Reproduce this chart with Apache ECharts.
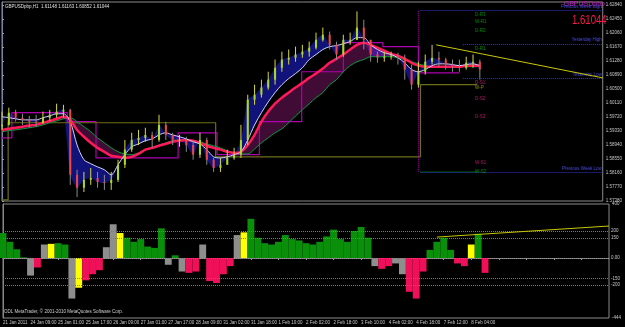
<!DOCTYPE html>
<html><head><meta charset="utf-8">
<script src="https://cdn.jsdelivr.net/npm/echarts@6/dist/echarts.min.js"></script>
<style>html,body{margin:0;padding:0;background:#000;}#chart{width:625px;height:327px;}</style>
</head><body><div id="chart"></div>
<script>
// ---------------- data ----------------
const tickLabels = ['21 Jan 2011','24 Jan 09:00','25 Jan 01:00','25 Jan 17:00','26 Jan 09:00','27 Jan 01:00','27 Jan 17:00','28 Jan 09:00','31 Jan 02:00','31 Jan 18:00','1 Feb 10:00','2 Feb 02:00','2 Feb 18:00','3 Feb 10:00','4 Feb 02:00','4 Feb 18:00','7 Feb 12:00','8 Feb 04:00'];
const closeP = [1.5950,1.5984,1.5970,1.5964,1.5959,1.5956,1.5970,1.5978,1.5987,1.5992,
1.5811,1.5775,1.5797,1.5802,1.5791,1.5788,1.5797,1.5839,1.5881,1.5908,
1.5914,1.5922,1.5908,1.5950,1.5922,1.5908,1.5908,1.5894,1.5867,1.5908,
1.5853,1.5830,1.5839,1.5858,1.5867,1.5908,1.6020,1.6034,1.6054,1.6076,
1.6109,1.6132,1.6137,1.6146,1.6154,1.6165,1.6187,1.6201,1.6173,1.6146,
1.6187,1.6187,1.6221,1.6187,1.6146,1.6137,1.6140,1.6143,1.6137,1.6104,
1.6062,1.6098,1.6126,1.6137,1.6132,1.6118,1.6112,1.6109,1.6123,1.6126,
1.61044];
const highP = [1.5987,1.5998,1.5992,1.5981,1.5975,1.5978,1.5987,1.5992,1.6009,1.6006,
1.5995,1.5825,1.5819,1.5830,1.5819,1.5811,1.5819,1.5853,1.5908,1.5928,
1.5936,1.5942,1.5931,1.5978,1.5959,1.5928,1.5922,1.5917,1.5908,1.5928,
1.5914,1.5858,1.5858,1.5881,1.5886,1.5950,1.6034,1.6062,1.6076,1.6098,
1.6132,1.6154,1.6160,1.6168,1.6173,1.6182,1.6207,1.6221,1.6210,1.6182,
1.6201,1.6207,1.6266,1.6243,1.6187,1.6154,1.6154,1.6154,1.6151,1.6146,
1.6118,1.6126,1.6146,1.6173,1.6154,1.6137,1.6132,1.6132,1.6140,1.6146,
1.6132];
const lowP = [1.5936,1.5948,1.5959,1.5950,1.5942,1.5945,1.5953,1.5961,1.5970,1.5970,
1.5783,1.5749,1.5763,1.5783,1.5775,1.5769,1.5769,1.5791,1.5830,1.5875,
1.5894,1.5903,1.5886,1.5903,1.5908,1.5894,1.5889,1.5875,1.5853,1.5858,
1.5839,1.5819,1.5819,1.5839,1.5853,1.5858,1.5894,1.6006,1.6026,1.6048,
1.6062,1.6098,1.6118,1.6126,1.6137,1.6140,1.6160,1.6182,1.6160,1.6132,
1.6140,1.6173,1.6187,1.6160,1.6126,1.6123,1.6126,1.6132,1.6118,1.6076,
1.6048,1.6054,1.6090,1.6118,1.6112,1.6104,1.6098,1.6098,1.6104,1.6109,
1.6076];
const fastMA = [1.5973,1.5970,1.5967,1.5964,1.5964,1.5964,1.5970,1.5975,1.5981,1.5981,
1.5959,1.5894,1.5853,1.5842,1.5833,1.5825,1.5811,1.5839,1.5867,1.5889,
1.5897,1.5906,1.5911,1.5922,1.5928,1.5922,1.5917,1.5911,1.5903,1.5897,
1.5881,1.5861,1.5858,1.5861,1.5867,1.5875,1.5908,1.5950,1.5984,1.6014,
1.6040,1.6062,1.6079,1.6093,1.6109,1.6132,1.6146,1.6160,1.6168,1.6171,
1.6176,1.6182,1.6193,1.6193,1.6173,1.6160,1.6151,1.6146,1.6137,1.6123,
1.6104,1.6098,1.6104,1.6115,1.6120,1.6120,1.6118,1.6115,1.6118,1.6120,
1.6115];
const midMA = [1.5936,1.5939,1.5942,1.5945,1.5948,1.5950,1.5956,1.5961,1.5967,1.5973,
1.5964,1.5936,1.5917,1.5900,1.5886,1.5875,1.5864,1.5861,1.5858,1.5861,
1.5869,1.5881,1.5886,1.5892,1.5897,1.5903,1.5906,1.5908,1.5906,1.5900,
1.5892,1.5886,1.5881,1.5875,1.5872,1.5875,1.5894,1.5922,1.5959,1.5987,
1.6009,1.6026,1.6040,1.6054,1.6067,1.6081,1.6093,1.6107,1.6123,1.6134,
1.6146,1.6160,1.6173,1.6179,1.6173,1.6165,1.6157,1.6148,1.6143,1.6134,
1.6123,1.6115,1.6112,1.6112,1.6112,1.6112,1.6112,1.6112,1.6115,1.6115,
1.6115];
const slowMA = [1.5931,1.5934,1.5936,1.5939,1.5942,1.5945,1.5950,1.5956,1.5961,1.5967,
1.5970,1.5959,1.5945,1.5931,1.5914,1.5900,1.5886,1.5875,1.5869,1.5867,
1.5872,1.5881,1.5886,1.5894,1.5900,1.5906,1.5908,1.5908,1.5906,1.5903,
1.5897,1.5892,1.5886,1.5878,1.5872,1.5869,1.5869,1.5883,1.5900,1.5914,
1.5928,1.5939,1.5956,1.5975,1.5992,1.6009,1.6026,1.6040,1.6062,1.6076,
1.6098,1.6115,1.6126,1.6132,1.6140,1.6140,1.6140,1.6140,1.6137,1.6132,
1.6126,1.6120,1.6115,1.6112,1.6112,1.6112,1.6112,1.6112,1.6112,1.6112,
1.6112];
const histVals = [185,120,65,5,-130,-70,100,105,110,100,
-300,-220,-165,-120,-90,80,250,185,150,120,
140,85,75,220,-50,20,-100,-110,-100,100,
-170,-185,-120,-60,170,190,290,150,110,100,
120,170,140,130,110,100,120,160,210,140,
120,200,230,150,-60,-80,-60,-40,-120,-250,
-300,-100,60,120,150,60,-40,-60,100,180,
-110];
const histKinds = 'GGGGNRNYGG'+'NYRRRNNYGG'+'GGGGNGNRRN'+'RRRRNYGGGG'+'GGGGGGGGGG'+'GGGGNRRNNR'+'RRGGGGRRYG'+'R';
const histLevels = [200,150,0,-150,-200];
const histLevelLabels = ['200','150','0.00','-150','-200'];
const histMax = 400, histMin = -444;
// step levels (x in bar-index units)
const dayStepX = [0,1.45,9.57,13.77,25.8,31.5,37.7,43.9,50,55.8,61,67];
const dayStepP = [1.5914,1.5984,1.5959,1.5858,1.5928,1.5867,1.5959,1.6098,1.6179,1.6168,1.6095,1.6095];
const weekStepX = [0,0.9,31.3,61.3,69.6];
const weekStepP = [1.5741,1.5956,1.5861,1.6062,1.6062];
const levelNames = ['Previous Week High','Yesterday High','Yesterday Low','Previous Week Low'];
const levelPrices = [1.6268,1.6176,1.6081,1.5819];
const levelStarts = [61.3,67.5,67.5,61.3];
const pivotNames = ['D-R3','W-R1','D-R2','D-R1','D-S1','W-P','D-S2','D-S3','W-S1','W-S2'];
const pivotPrices = [1.6257,1.6238,1.6213,1.6162,1.6067,1.6054,1.6023,1.5973,1.5844,1.5819];
const pivotColors = ['#00b000','#00b000','#00b000','#00b000','#e0207a','#b0b000','#e0207a','#e0207a','#e0207a','#00b000'];
const trendMain = [[63.6,1.6173],[88,1.6081]];
const trendHist = [[63,155],[88,237]];
const lastPrice = 1.61044;
const titleText = 'GBPUSDpbp,H1  1.61148 1.61163 1.60852 1.61044';

// ---------------- chart ----------------
const F = 'Liberation Sans';
const chart = echarts.init(document.getElementById('chart'), null, {renderer:'canvas'});
const idx = a => a.map((v,i)=>[i,v]);
const candleData = closeP.map((c,i)=>{const o = i>0?closeP[i-1]:c; return [i,o,c,Math.min(lowP[i],o,c),Math.max(highP[i],o,c)];});
function band(a,b,color,z){
  return {type:'custom',xAxisIndex:0,yAxisIndex:0,z:z,silent:true,data:[[0,a[0]]],
    renderItem:(p,api)=>{const pts=[];a.forEach((v,i)=>pts.push(api.coord([i,v])));
      for(let i=b.length-1;i>=0;i--)pts.push(api.coord([i,b[i]]));
      return {type:'polygon',shape:{points:pts,smooth:0.2},style:{fill:color}};}};
}
const histColor = {G:'#0a8f0a',R:'#f0105a',N:'#8e8e8e',Y:'#ffff00'};
const series = [
  band(closeP, fastMA, 'rgba(25,25,175,0.7)', 1),
  band(midMA, slowMA, 'rgba(230,40,190,0.28)', 1),
  {type:'line',xAxisIndex:0,yAxisIndex:0,z:2,data:dayStepX.map((x,i)=>[x,dayStepP[i]]),step:'end',showSymbol:false,lineStyle:{color:'#b000b0',width:1.2},silent:true},
  {type:'line',xAxisIndex:0,yAxisIndex:0,z:2,data:weekStepX.map((x,i)=>[x,weekStepP[i]]),step:'end',showSymbol:false,lineStyle:{color:'#6e6e1a',width:1.2},silent:true},
  {type:'line',xAxisIndex:0,yAxisIndex:0,z:2,data:[[61,levelPrices[0]],[61,levelPrices[3]]],showSymbol:false,lineStyle:{color:'#b000b0',width:1,type:'dotted'},silent:true},
  {type:'line',xAxisIndex:0,yAxisIndex:0,z:3,data:idx(slowMA),showSymbol:false,smooth:0.3,lineStyle:{color:'#00a040',width:1},silent:true},
  {type:'line',xAxisIndex:0,yAxisIndex:0,z:3,data:idx(midMA),showSymbol:false,smooth:0.3,lineStyle:{color:'#ff1a5a',width:2.5},silent:true},
  {type:'line',xAxisIndex:0,yAxisIndex:0,z:3,data:idx(fastMA),showSymbol:false,smooth:0.3,lineStyle:{color:'#d0d0ff',width:1},silent:true},
  {type:'custom',xAxisIndex:0,yAxisIndex:0,z:4,data:candleData,silent:true,
    renderItem:(p,api)=>{const i=api.value(0),o=api.value(1),c=api.value(2),l=api.value(3),h=api.value(4);
      const pO=api.coord([i,o]),pC=api.coord([i,c]),pL=api.coord([i,l]),pH=api.coord([i,h]);
      const w=Math.max(1,api.size([1,0])[0]*0.3);const col=c>=o?'#a8d828':'#e84848';
      return {type:'group',children:[
        {type:'line',shape:{x1:pH[0],y1:pH[1],x2:pL[0],y2:pL[1]},style:{stroke:c>=o?'#d8d840':'#8a8a8a',lineWidth:1}},
        {type:'rect',shape:{x:pO[0]-w/2,y:Math.min(pO[1],pC[1]),width:w,height:Math.max(1,Math.abs(pO[1]-pC[1]))},style:{fill:col}}]};},
    markLine:{silent:true,symbol:'none',data:[{yAxis:lastPrice}],lineStyle:{opacity:0},
      label:{position:'end',distance:2,formatter:()=>lastPrice.toFixed(5),backgroundColor:'#ffffff',color:'#000',fontSize:5,fontFamily:F,padding:[1,1]}}},
  {type:'line',xAxisIndex:0,yAxisIndex:0,z:5,data:trendMain,showSymbol:false,lineStyle:{color:'#c8c800',width:1},silent:true},
  {type:'line',xAxisIndex:0,yAxisIndex:0,z:2,data:[[61.3,1.5819],[69.6,1.5819]],showSymbol:false,lineStyle:{color:'#00a000',width:1,type:'dotted'},silent:true},
  {type:'line',xAxisIndex:0,yAxisIndex:0,z:2,silent:true,data:[],
    markLine:{silent:true,symbol:'none',lineStyle:{color:'#3535c8',type:'dotted',width:1},
      label:{position:'insideEndTop',distance:1,color:'#4a4ae0',fontSize:4.5,fontFamily:F,formatter:p=>p.name},
      data:levelNames.map((n,i)=>[{name:n,coord:[levelStarts[i],levelPrices[i]]},{coord:[88,levelPrices[i]]}])}},
  {type:'scatter',xAxisIndex:0,yAxisIndex:0,z:6,silent:true,symbolSize:0,
    data:pivotNames.map((n,i)=>({name:n,value:[69.3,pivotPrices[i]],label:{color:pivotColors[i]}})),
    label:{show:true,position:'right',distance:0,fontSize:4.5,fontFamily:F,formatter:p=>p.name}},
  {type:'custom',xAxisIndex:1,yAxisIndex:1,z:2,silent:true,data:histVals.map((v,i)=>[i,v]),
    renderItem:(p,api)=>{const i=api.value(0),v=api.value(1);const a=api.coord([i,0]),b=api.coord([i,v]);
      const w=api.size([1,0])[0];
      return {type:'rect',shape:{x:a[0]-w/2,y:Math.min(a[1],b[1]),width:w,height:Math.abs(a[1]-b[1])},style:{fill:histColor[histKinds[i]]}};},
    markLine:{silent:true,symbol:'none',lineStyle:{color:'#7a7a7a',type:'dotted',width:1},
      label:{position:'end',distance:2,color:'#c8c8c8',fontSize:4.5,fontFamily:F,formatter:p=>p.name},
      data:histLevels.map((v,i)=>({yAxis:v,name:histLevelLabels[i]}))}},
  {type:'line',xAxisIndex:1,yAxisIndex:1,z:5,data:trendHist,showSymbol:false,lineStyle:{color:'#c8c800',width:1},silent:true}
];
const option = {
  backgroundColor:'#000',animation:false,
  textStyle:{fontFamily:F},
  grid:[{left:2,right:16,top:2,height:199,show:true,borderColor:'#8a8a8a',borderWidth:1},
        {left:2,right:16,top:204,height:114,show:true,borderColor:'#8a8a8a',borderWidth:1}],
  xAxis:[{type:'value',gridIndex:0,min:0,max:88,show:false},
         {type:'value',gridIndex:1,min:0,max:88,interval:4,splitLine:{show:false},
          axisLine:{lineStyle:{color:'#9a9a9a'}},axisTick:{show:true,length:2,lineStyle:{color:'#9a9a9a'}},
          axisLabel:{fontSize:4.5,color:'#c8c8c8',fontFamily:F,align:'left',margin:2,showMaxLabel:false,
            formatter:v=>tickLabels[Math.round(v/4)]||''}}],
  yAxis:[{type:'value',gridIndex:0,position:'right',min:1.5738,max:1.62923,interval:0.0039,splitLine:{show:false},
          axisLine:{show:true,lineStyle:{color:'#7886aa'}},axisTick:{show:true,length:2,lineStyle:{color:'#9a9a9a'}},
          axisLabel:{fontSize:4.5,color:'#c8c8c8',fontFamily:F,margin:3,showMaxLabel:false,formatter:v=>v.toFixed(5)}},
         {type:'value',gridIndex:1,position:'right',min:histMin,max:histMax,interval:histMax-histMin,splitLine:{show:false},
          axisLine:{show:true,lineStyle:{color:'#7886aa'}},axisTick:{show:false},
          axisLabel:{fontSize:4.5,color:'#c8c8c8',fontFamily:F,margin:3,formatter:v=>String(Math.round(v))}}],
  graphic:[
    {type:'text',left:5,top:4,style:{text:titleText,fill:'#e0e0e0',fontSize:4.5,fontFamily:F}},
    {type:'text',right:20,top:1,style:{text:'GBPUSDpbp',fill:'#c020c0',fontSize:7,fontFamily:F}},
    {type:'text',x:572,y:15,scaleX:0.8,style:{text:lastPrice.toFixed(5),fill:'#ff1a4a',fontSize:12,fontFamily:F}},
    {type:'text',left:4,top:309,style:{text:'ODL MetaTrader, © 2001-2010 MetaQuotes Software Corp.',fill:'#d0d0d0',fontSize:4.5,fontFamily:F}}
  ],
  series:series
};
chart.setOption(option);
</script></body></html>
